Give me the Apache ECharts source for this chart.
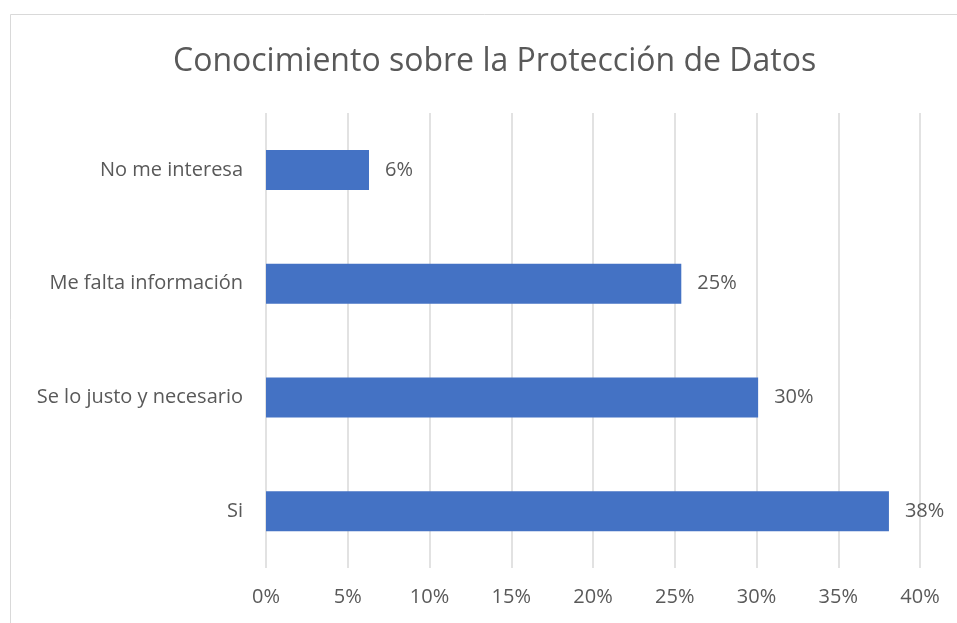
<!DOCTYPE html>
<html>
<head>
	<meta charset="utf-8">
	<title>Conocimiento sobre la Protección de Datos</title>
	<script type="text/javascript" src="https://cdn.jsdelivr.net/npm/echarts@6/dist/echarts.min.js"></script>
	<style>
		html, body { margin: 0; padding: 0; background: #fff; }
	</style>
</head>
<body>
	<div id="chart" style="width: 957px; height: 623px;"></div>
	<script type="text/javascript">
	// categorías de abajo hacia arriba (como en el eje de Excel)
	var categorias = ['Si', 'Se lo justo y necesario', 'Me falta información', 'No me interesa'];
	var valores = [38.1, 30.1, 25.4, 6.3];
	var ticksX = [0, 5, 10, 15, 20, 25, 30, 35, 40];

	var fuente = 'Open Sans';
	var gris = '#595959';

	var chart = echarts.init(document.getElementById('chart'));
	chart.setOption({
		backgroundColor: '#fff',
		animation: false,
		title: {
			text: 'Conocimiento sobre la Protección de Datos',
			left: 168,
			top: 41,
			textStyle: {
				color: gris,
				fontFamily: fuente,
				fontWeight: 'normal',
				fontSize: 32
			}
		},
		graphic: [{
			type: 'rect',
			shape: { x: 10.5, y: 14.5, width: 980, height: 640 },
			style: { fill: 'none', stroke: '#d9d9d9', lineWidth: 1 },
			silent: true
		}],
		grid: {
			left: 266,
			right: 37,
			top: 113,
			bottom: 55
		},
		xAxis: {
			type: 'value',
			min: ticksX[0],
			max: ticksX[ticksX.length - 1],
			interval: 5,
			axisLine: { show: false },
			axisTick: { show: false },
			axisLabel: {
				color: gris,
				fontFamily: fuente,
				fontSize: 20,
				margin: 19,
				formatter: function (v) { return v + '%'; }
			},
			splitLine: {
				show: true,
				lineStyle: { color: '#d9d9d9', width: 1.5 }
			}
		},
		yAxis: {
			type: 'category',
			data: categorias,
			axisLine: { show: false },
			axisTick: { show: false },
			axisLabel: {
				color: gris,
				fontFamily: fuente,
				fontSize: 20,
				margin: 23
			}
		},
		series: [{
			type: 'bar',
			data: valores,
			barWidth: 40,
			itemStyle: { color: '#4472C4' },
			label: {
				show: true,
				position: 'right',
				distance: 16,
				color: gris,
				fontFamily: fuente,
				fontSize: 20,
				formatter: function (p) { return Math.round(p.value) + '%'; }
			}
		}]
	});
	</script>
</body>
</html>
